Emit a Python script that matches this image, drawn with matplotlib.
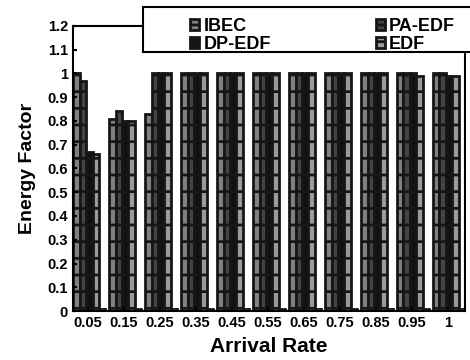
import matplotlib.pyplot as plt
from matplotlib.patches import Rectangle
import numpy as np

plt.rcParams['font.family'] = ['Liberation Sans', 'DejaVu Sans']
plt.rcParams['font.weight'] = 'bold'
plt.rcParams['hatch.linewidth'] = 2.0

rates = ['0.05', '0.15', '0.25', '0.35', '0.45', '0.55', '0.65', '0.75', '0.85', '0.95', '1']
ibec = [1.00, 0.81, 0.83, 1.00, 1.00, 1.00, 1.00, 1.00, 1.00, 1.00, 1.00]
pa_edf = [0.97, 0.84, 1.00, 1.00, 1.00, 1.00, 1.00, 1.00, 1.00, 1.00, 1.00]
dp_edf = [0.67, 0.80, 1.00, 1.00, 1.00, 1.00, 1.00, 1.00, 1.00, 1.00, 0.99]
edf = [0.66, 0.80, 1.00, 1.00, 1.00, 1.00, 1.00, 1.00, 1.00, 0.99, 0.99]
extra = [0.01] * 11   # the little stub at the end of every group

series = [('IBEC', ibec, '#808080'),
          ('PA-EDF', pa_edf, '#444444'),
          ('DP-EDF', dp_edf, '#111111'),
          ('EDF', edf, '#9a9a9a'),
          ('_extra', extra, '#111111')]

fig = plt.figure(figsize=(4.7, 3.6), dpi=100)
ax = fig.add_axes([0.155, 0.136, 0.834, 0.792])

x = np.arange(1, len(rates) + 1)
w = 0.18
bars = {}
for i, (name, vals, col) in enumerate(series):
    bars[name] = ax.bar(x + (i - 1.8) * w, vals, w, color=col, edgecolor='#161616',
                        linewidth=2.0, hatch='-', label=name)

ax.set_xlim(0.58, 11.47)
ax.set_ylim(0, 1.2)
ax.set_yticks(np.arange(0, 1.21, 0.1))
ax.set_yticklabels(['0', '0.1', '0.2', '0.3', '0.4', '0.5', '0.6', '0.7',
                    '0.8', '0.9', '1', '1.1', '1.2'])
ax.set_xticks(x)
ax.set_xticklabels(rates)
ax.tick_params(labelsize=10.5, length=3, width=1.5, direction='in')
for s in ax.spines.values():
    s.set_linewidth(1.5)
ax.set_xlabel('Arrival Rate', fontsize=15, fontweight='bold', labelpad=5)
ax.set_ylabel('Energy Factor', fontsize=14, fontweight='bold', labelpad=8)

# legend frame sticking out of the top right corner
fig.patches.append(Rectangle((143 / 470, 1 - 52 / 360), 340 / 470, 45 / 360,
                             transform=fig.transFigure, facecolor='white',
                             edgecolor='black', linewidth=1.5, zorder=4))
order = ['IBEC', 'DP-EDF', 'PA-EDF', 'EDF']
leg = fig.legend([bars[n] for n in order], order, ncol=2, loc='upper left',
                 bbox_to_anchor=(181 / 470, 1 - 9 / 360), fontsize=13,
                 frameon=False, handlelength=0.5, handleheight=0.5,
                 handletextpad=0.25, columnspacing=5.8, borderpad=0,
                 labelspacing=0.05)
leg.set_zorder(5)

fig.savefig('out.png', dpi=100)
